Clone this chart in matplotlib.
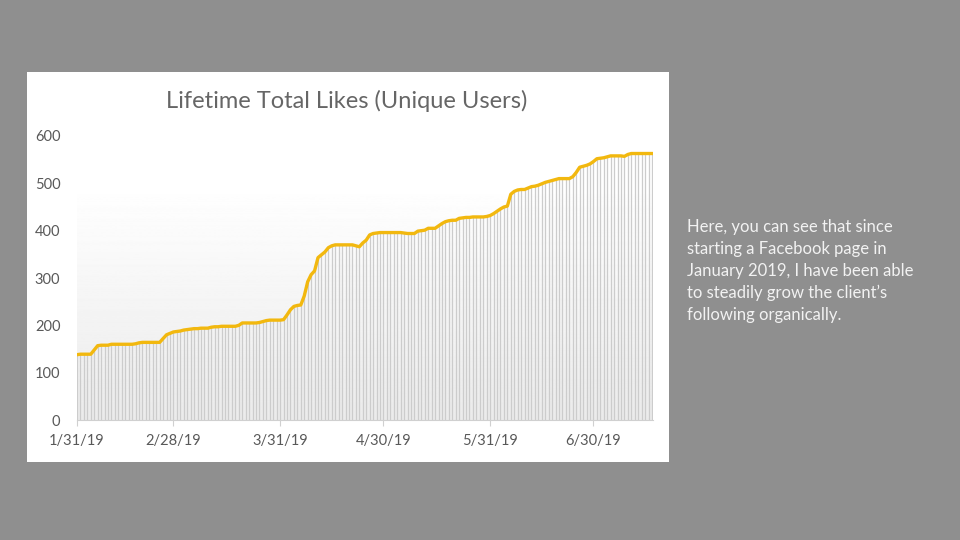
import matplotlib
matplotlib.use("Agg")
import matplotlib.pyplot as plt
import matplotlib.dates as mdates
import numpy as np

plt.rcParams['font.family'] = ['Lato', 'DejaVu Sans']

# daily lifetime likes, 1/31/19 .. 7/17/19
start = np.datetime64('2019-01-31')
likes = [
    138, 139, 139, 139, 139, 148, 157, 158, 158, 158,
    160, 160, 160, 160, 160, 160, 160, 161, 163, 164,
    164, 164, 164, 164, 164, 172, 180, 183, 186, 187,
    188, 190, 191, 192, 193, 193, 194, 194, 194, 196,
    197, 197, 198, 198, 198, 198, 198, 200, 205, 205,
    205, 205, 205, 206, 208, 210, 211, 211, 211, 211,
    212, 222, 233, 240, 242, 243, 262, 292, 307, 315,
    343, 349, 355, 364, 368, 370, 370, 370, 370, 370,
    370, 368, 366, 374, 380, 391, 394, 395, 396, 396,
    396, 396, 396, 396, 396, 395, 394, 394, 394, 399,
    400, 401, 405, 405, 405, 410, 415, 419, 421, 422,
    422, 426, 427, 428, 428, 429, 429, 429, 429, 430,
    432, 436, 441, 446, 450, 452, 477, 483, 486, 487,
    487, 490, 493, 494, 496, 499, 502, 504, 506, 508,
    510, 510, 510, 510, 514, 523, 534, 536, 538, 541,
    546, 552, 553, 554, 556, 558, 558, 558, 558, 557,
    561, 563, 563, 563, 563, 563, 563, 563,
]
dates = start + np.arange(len(likes))
tick_dates = np.array(['2019-01-31', '2019-02-28', '2019-03-31',
                       '2019-04-30', '2019-05-31', '2019-06-30'], dtype='datetime64[D]')
tick_labels = ['1/31/19', '2/28/19', '3/31/19', '4/30/19', '5/31/19', '6/30/19']

title = 'Lifetime Total Likes (Unique Users)'
note = ("Here, you can see that since\nstarting a Facebook page in\n"
        "January 2019, I have been able\nto steadily grow the client\u2019s\n"
        "following organically.")

fig = plt.figure(figsize=(9.6, 5.4), dpi=100, facecolor='#8f8f8f')

# white chart panel
panel = fig.add_axes([27/960, 1-462/540, 642/960, 390/540])
panel.set_facecolor('white')
panel.set_xticks([])
panel.set_yticks([])
for s in panel.spines.values():
    s.set_visible(False)

ax = fig.add_axes([77/960, 1-420/540, 576/960, 284/540])
ax.patch.set_alpha(0)
x = mdates.date2num(dates.astype('datetime64[s]').astype(object))
xt = mdates.date2num(tick_dates.astype('datetime64[s]').astype(object))

# soft background gradient
grad = np.linspace(0.92, 1.0, 256).reshape(-1, 1)
ax.imshow(grad, extent=[x[0], x[-1], 0, 500], origin='lower', aspect='auto',
          cmap='gray', vmin=0, vmax=1, zorder=0)

ax.vlines(x, 0, likes, color='#cccccc', lw=0.9, zorder=1)
ax.plot(x, likes, color='#f2b80f', lw=2.4, solid_joinstyle='round', zorder=3)

ax.set_xlim(x[0], x[-1] + 0.3)
ax.set_ylim(0, 600)
ax.set_yticks(range(0, 601, 100))
ax.set_xticks(xt)
ax.set_xticklabels(tick_labels)
ax.tick_params(axis='y', length=0, labelsize=10.5, labelcolor='#595959', pad=12)
ax.tick_params(axis='x', length=4, color='#d0d0d0', labelsize=10.5,
               labelcolor='#595959', pad=6)
for k in ['top', 'right', 'left']:
    ax.spines[k].set_visible(False)
ax.spines['bottom'].set_color('#d0d0d0')

fig.text(347/960, 1-101/540, title, ha='center', va='center',
         fontsize=17, color='#666666')
fig.text(687/960, 1-219/540, note, ha='left', va='top', fontsize=12,
         color='#f2f2f2', linespacing=1.45)

fig.savefig('out.png', dpi=100, facecolor=fig.get_facecolor())
